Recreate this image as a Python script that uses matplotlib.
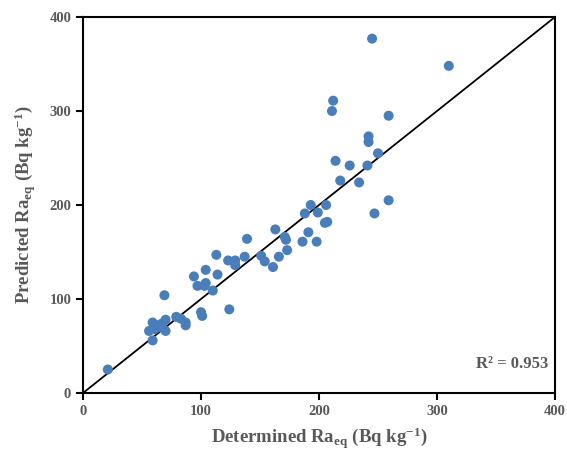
import numpy as np
import matplotlib
matplotlib.use("Agg")
import matplotlib.pyplot as plt

# --- Data (Bq/kg) ---
determined = [21, 59, 56, 59, 63, 61, 67, 70, 70, 65, 69, 79, 83, 87, 87,
              100, 101, 94, 97, 104, 104, 103, 110, 113, 114, 123, 124,
              129, 129, 137, 139, 151, 154, 161, 163, 166, 171, 172, 173,
              186, 188, 191, 193, 198, 199, 206, 205, 207, 212, 211, 214,
              218, 226, 234, 241, 242, 242, 245, 247, 250, 259, 259, 310]
predicted = [25, 56, 66, 75, 72, 68, 74, 78, 66, 70, 104, 81, 79, 75, 72,
             86, 82, 124, 114, 131, 117, 114, 109, 147, 126, 141, 89,
             141, 136, 145, 164, 146, 140, 134, 174, 145, 166, 163, 152,
             161, 191, 171, 200, 161, 192, 200, 181, 182, 311, 300, 247,
             226, 242, 224, 242, 273, 267, 377, 191, 255, 205, 295, 348]
r2_text = "R² = 0.953"
ticks = [0, 100, 200, 300, 400]

GREY = "#595959"
plt.rcParams['font.family'] = ['Liberation Serif', 'DejaVu Serif']
plt.rcParams['font.weight'] = 'bold'
plt.rcParams['mathtext.default'] = 'regular'

fig = plt.figure(figsize=(5.67, 4.5), dpi=100)
ax = fig.add_axes([83 / 567, 57 / 450, 472 / 567, 376 / 450])

# 1:1 line
ax.plot([0, 400], [0, 400], color='black', linewidth=1.3, zorder=2)
ax.scatter(determined, predicted, s=52, color='#4a7ebb', edgecolors='none', zorder=3)

ax.set_xlim(0, 400)
ax.set_ylim(0, 400)
ax.set_xticks(ticks)
ax.set_yticks(ticks)
ax.tick_params(direction='out', length=5, width=1.5, colors='black',
               labelcolor=GREY, labelsize=10.5)
for lab in ax.get_xticklabels() + ax.get_yticklabels():
    lab.set_fontweight('bold')
for sp in ax.spines.values():
    sp.set_linewidth(1.5)
    sp.set_color('black')

ax.set_xlabel("Determined Ra$_{eq}$ (Bq kg$^{-1}$)", fontsize=13.5,
              fontweight='bold', color=GREY, labelpad=6)
ax.set_ylabel("Predicted Ra$_{eq}$ (Bq kg$^{-1}$)", fontsize=13.5,
              fontweight='bold', color=GREY, labelpad=8)

ax.text(0.985, 0.077, r2_text, transform=ax.transAxes, ha='right', va='center',
        fontsize=12, fontweight='bold', color=GREY)

fig.savefig("out.png", dpi=100)
